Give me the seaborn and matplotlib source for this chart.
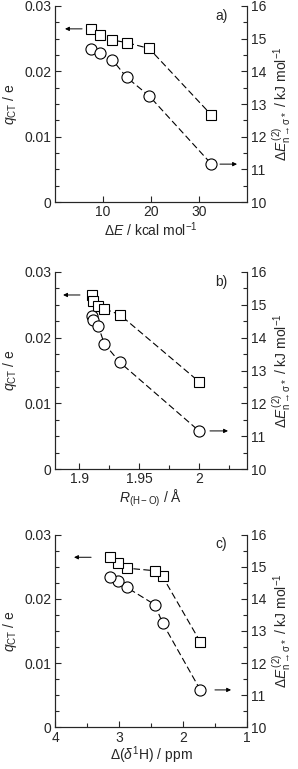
import numpy as np
import seaborn as sns
import matplotlib.pyplot as plt
from matplotlib.ticker import MultipleLocator, FuncFormatter

# values
q_ct = [0.0265, 0.0256, 0.0248, 0.0244, 0.0235, 0.0133]     # squares, left axis (e)
de2 = [14.67, 14.55, 14.36, 13.82, 13.25, 11.16]            # circles, right axis (kJ/mol)

delta_e = [7.4, 9.3, 11.9, 14.9, 19.6, 32.6]                # kcal/mol
r_ho = [1.911, 1.912, 1.916, 1.921, 1.934, 2.000]           # Angstrom
d_shift = [3.14, 3.02, 2.88, 2.44, 2.32, 1.73]              # ppm

panel_letters = ["a)", "b)", "c)"]

sns.set_style("ticks")
plt.rcParams["font.family"] = ["Liberation Sans", "DejaVu Sans"]
plt.rcParams["mathtext.fontset"] = "custom"
plt.rcParams["mathtext.rm"] = "Liberation Sans"
plt.rcParams["mathtext.it"] = "Liberation Sans:italic"
plt.rcParams["mathtext.sf"] = "Liberation Sans"
FS = 10

fig = plt.figure(figsize=(2.98, 7.69), dpi=100)

# axes boxes in figure fraction (left, bottom, width, height)
boxes = [
    (0.1846, 0.7373, 0.6443, 0.2549),
    (0.1846, 0.3901, 0.6443, 0.2562),
    (0.1846, 0.0545, 0.6443, 0.2500),
]

dash = (0, (6, 3))


def q_fmt(v, pos):
    return "0" if abs(v) < 1e-9 else f"{v:.2f}"


def draw_panel(box, x, letter, xlabel, xlim, xticks, xticklabels, xminor,
               left_arrow, right_arrow, xpad=1):
    ax = fig.add_axes(box)
    ax2 = ax.twinx()

    sns.lineplot(x=x, y=q_ct, ax=ax, color="k", lw=0.8, linestyle=dash,
                 marker="s", markersize=7, markerfacecolor="white",
                 markeredgecolor="k", markeredgewidth=0.8)
    sns.lineplot(x=x, y=de2, ax=ax2, color="k", lw=0.8, linestyle=dash,
                 marker="o", markersize=8, markerfacecolor="white",
                 markeredgecolor="k", markeredgewidth=0.8)

    ax.set_xlim(*xlim)
    ax.set_ylim(0, 0.03)
    ax2.set_ylim(10, 16)

    ax.set_xticks(xticks)
    ax.set_xticklabels(xticklabels)
    if xminor:
        ax.xaxis.set_minor_locator(MultipleLocator(xminor))
    ax.yaxis.set_major_locator(MultipleLocator(0.01))
    ax.yaxis.set_minor_locator(MultipleLocator(0.0025))
    ax.yaxis.set_major_formatter(FuncFormatter(q_fmt))
    ax2.yaxis.set_major_locator(MultipleLocator(1))
    ax2.yaxis.set_minor_locator(MultipleLocator(0.5))

    for a in (ax, ax2):
        a.spines["top"].set_visible(False)
        for s in a.spines.values():
            s.set_linewidth(0.8)
    ax.tick_params(which="both", direction="in", top=False, right=False,
                   labelsize=FS, width=0.8, pad=2.5)
    ax.tick_params(which="major", length=4.5)
    ax.tick_params(which="minor", length=3)
    ax2.tick_params(which="both", direction="in", left=False, top=False,
                    labelsize=FS, width=0.8, pad=3)
    ax2.tick_params(which="major", length=4.5)
    ax2.tick_params(which="minor", length=3)

    ax.set_xlabel(xlabel, fontsize=FS, labelpad=xpad)
    ax.set_ylabel(r"$q_{\rm CT}$ / e", fontsize=FS, labelpad=4)
    ax2.set_ylabel(r"$\Delta E^{\,(2)}_{\rm n\rightarrow\sigma *}$ / kJ mol$^{-1}$",
                   fontsize=FS, rotation=90, labelpad=3)

    ax.text(0.865, 0.95, letter, transform=ax.transAxes, fontsize=FS,
            ha="center", va="center")

    arrow = dict(arrowstyle="-|>", color="k", lw=0.7, mutation_scale=6,
                 shrinkA=0, shrinkB=0)
    ax.annotate("", xy=(left_arrow[1], q_ct[0]), xytext=(left_arrow[0], q_ct[0]),
                xycoords=("axes fraction", "data"),
                textcoords=("axes fraction", "data"), arrowprops=arrow)
    ax2.annotate("", xy=(right_arrow[1], de2[-1]), xytext=(right_arrow[0], de2[-1]),
                 xycoords=("axes fraction", "data"),
                 textcoords=("axes fraction", "data"), arrowprops=arrow)
    return ax


draw_panel(boxes[0], delta_e, panel_letters[0], r"$\Delta E$ / kcal mol$^{-1}$",
           (0, 40), [10, 20, 30], ["10", "20", "30"], None,
           (0.141, 0.052), (0.859, 0.948))

draw_panel(boxes[1], r_ho, panel_letters[1], r"$R_{\rm (H-O)}$ / Å",
           (1.88, 2.04), [1.9, 1.95, 2.0], ["1.9", "1.95", "2"], 0.025,
           (0.130, 0.042), (0.807, 0.901))

draw_panel(boxes[2], d_shift, panel_letters[2], r"$\Delta$($\delta^{1}$H) / ppm",
           (4, 1), [4, 3, 2, 1], ["4", "3", "2", "1"], 0.5,
           (0.188, 0.099), (0.833, 0.917), xpad=0)

fig.savefig("out.png", dpi=100)
